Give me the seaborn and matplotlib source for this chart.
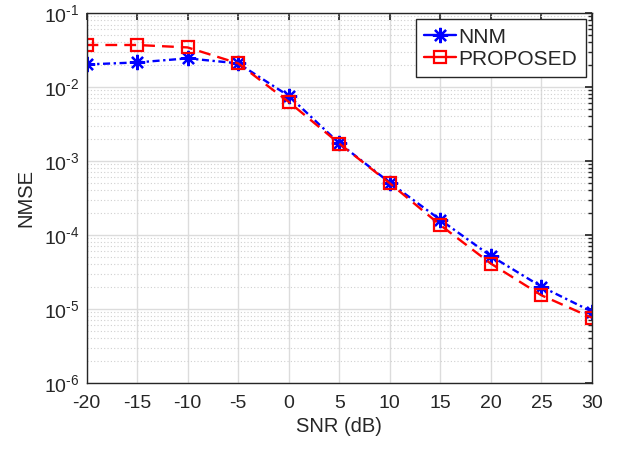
import numpy as np
import pandas as pd
import matplotlib
matplotlib.use("Agg")
import matplotlib.pyplot as plt
import seaborn as sns
from matplotlib.ticker import LogLocator, NullFormatter, FixedLocator, FuncFormatter

snr = [-20, -15, -10, -5, 0, 5, 10, 15, 20, 25, 30]
nnm = [0.0202, 0.0215, 0.0244, 0.0209, 0.0076, 0.00174, 5.1e-4, 1.6e-4, 5.2e-5, 2.0e-5, 9.2e-6]
proposed = [0.037, 0.037, 0.0343, 0.0209, 0.0063, 0.00172, 5.0e-4, 1.36e-4, 4.1e-5, 1.53e-5, 7.6e-6]
xticks = [-20, -15, -10, -5, 0, 5, 10, 15, 20, 25, 30]

sns.set_theme(style="white")
plt.rcParams['font.family'] = ['Liberation Sans', 'DejaVu Sans']
plt.rcParams['mathtext.fontset'] = 'custom'
plt.rcParams['mathtext.rm'] = 'Liberation Sans'
plt.rcParams['mathtext.it'] = 'Liberation Sans'
plt.rcParams['axes.unicode_minus'] = False

df = pd.DataFrame({"SNR": snr * 2, "NMSE": nnm + proposed,
                   "Method": ["NNM"] * len(snr) + ["PROPOSED"] * len(snr)})

fig = plt.figure(figsize=(6.25, 4.5), dpi=100)
ax = fig.add_axes([0.1384, 0.149, 0.8088, 0.822])

sns.lineplot(data=df[df.Method == "NNM"], x="SNR", y="NMSE", ax=ax, color="#0000ff",
             marker=(8, 2, 0), markersize=11, markeredgewidth=1.6, markeredgecolor="#0000ff",
             linewidth=1.7, linestyle=(0, (3, 1.5, 1, 1.5)), label="NNM")
sns.lineplot(data=df[df.Method == "PROPOSED"], x="SNR", y="NMSE", ax=ax, color="#ff0000",
             marker="s", markersize=9, markerfacecolor="none", markeredgecolor="#ff0000",
             markeredgewidth=1.6, linewidth=1.7, linestyle=(0, (5, 3)), label="PROPOSED")

ax.set_yscale("log")
ax.set_xlim(-20, 30)
ax.set_ylim(1e-6, 1e-1)
ax.xaxis.set_major_locator(FixedLocator(xticks))
ax.xaxis.set_major_formatter(FuncFormatter(lambda v, p: "%d" % v))
ax.yaxis.set_major_locator(LogLocator(base=10, numticks=10))
ax.yaxis.set_major_formatter(FuncFormatter(
    lambda v, p: r"$\mathregular{10^{\text{-}%d}}$" % int(round(-np.log10(v)))))
ax.yaxis.set_minor_locator(LogLocator(base=10, subs=np.arange(2, 10), numticks=20))
ax.yaxis.set_minor_formatter(NullFormatter())

ax.grid(True, which="major", color="#dcdcdc", linewidth=1.0, linestyle="-")
ax.grid(True, which="minor", axis="y", color="#d0d0d0", linewidth=0.8, linestyle=(0, (1, 2)))
ax.set_axisbelow(True)

for s in ax.spines.values():
    s.set_visible(True)
    s.set_color("#262626")
    s.set_linewidth(1.0)
ax.tick_params(which="both", direction="in", top=True, right=True, colors="#262626",
               labelsize=14, labelcolor="#262626")
ax.tick_params(which="major", length=5)
ax.tick_params(which="minor", length=3)
ax.tick_params(axis="x", which="major", pad=9)
ax.tick_params(axis="y", which="major", pad=5)

ax.set_xlabel("SNR (dB)", fontsize=14.5, color="#262626", labelpad=3)
ax.set_ylabel("NMSE", fontsize=14.5, color="#262626", labelpad=6)

leg = ax.legend(loc="upper right", fontsize=15, frameon=True, fancybox=False,
                edgecolor="#262626", framealpha=1, borderpad=0.4, handlelength=1.5,
                labelspacing=0.15, borderaxespad=0.3, handletextpad=0.15)
leg.get_frame().set_linewidth(1.0)
for h in leg.get_lines():
    h.set_linestyle("-")

fig.savefig("out.png", dpi=100)
